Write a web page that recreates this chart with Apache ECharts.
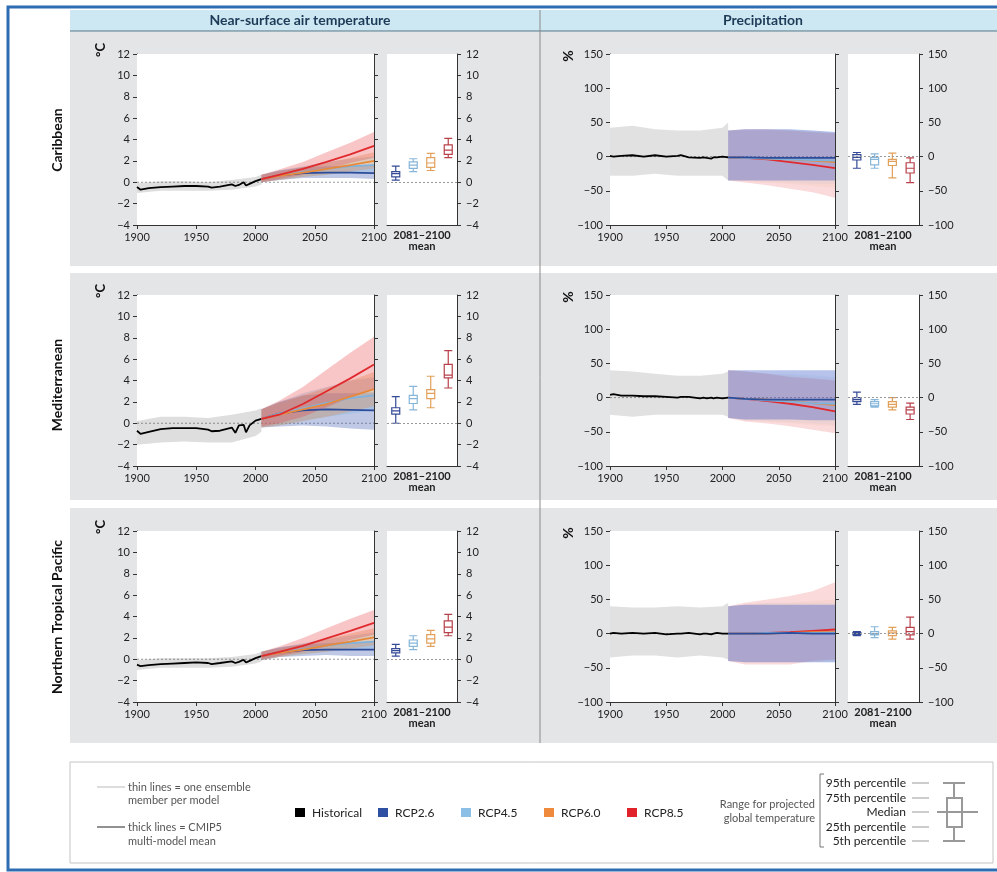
<!DOCTYPE html>
<html>
<head>
<meta charset="utf-8">
<script src="https://cdn.jsdelivr.net/npm/echarts@6/dist/echarts.min.js"></script>
<style>
  html, body { margin: 0; padding: 0; background: #fff; }
  #chart { width: 997px; height: 872px; }
</style>
</head>
<body>
<div id="chart"></div>
<script>
// years used by the curves
const histYears = [1900, 1903, 1910, 1920, 1930, 1940, 1950, 1960, 1963, 1970, 1980, 1983, 1986, 1990, 1992, 1995, 2000, 2005];
const histBandYears = [1900, 1920, 1940, 1960, 1980, 2000, 2005];
const futYears = [2005, 2020, 2040, 2060, 2080, 2100];

const scenarios = ['Historical', 'RCP2.6', 'RCP4.5', 'RCP6.0', 'RCP8.5'];
const regions = ['Caribbean', 'Mediterranean', 'Northern Tropical Pacific'];

// multi-model means: [historical, rcp26, rcp45, rcp60, rcp85]
const carTempMean = [
  [-0.45, -0.7, -0.55, -0.45, -0.4, -0.35, -0.35, -0.4, -0.5, -0.4, -0.2, -0.35, -0.25, 0.0, -0.3, -0.15, 0.1, 0.3],
  [0.3, 0.65, 0.85, 0.9, 0.9, 0.85],
  [0.3, 0.65, 0.95, 1.25, 1.5, 1.6],
  [0.3, 0.6, 0.9, 1.25, 1.6, 2.0],
  [0.3, 0.7, 1.25, 1.9, 2.6, 3.4]
];
const medTempMean = [
  [-0.7, -1.0, -0.8, -0.55, -0.45, -0.45, -0.45, -0.6, -0.75, -0.7, -0.4, -0.9, -0.2, -0.15, -0.85, -0.2, 0.25, 0.4],
  [0.4, 0.9, 1.2, 1.3, 1.25, 1.2],
  [0.4, 0.9, 1.4, 1.9, 2.35, 2.6],
  [0.4, 0.8, 1.3, 1.8, 2.5, 3.2],
  [0.4, 0.8, 1.8, 3.0, 4.2, 5.5]
];
const ntpTempMean = [
  [-0.5, -0.65, -0.55, -0.45, -0.4, -0.35, -0.3, -0.35, -0.45, -0.35, -0.2, -0.35, -0.25, -0.05, -0.3, -0.15, 0.1, 0.3],
  [0.3, 0.65, 0.85, 0.9, 0.9, 0.9],
  [0.3, 0.65, 0.95, 1.3, 1.5, 1.65],
  [0.3, 0.6, 0.9, 1.3, 1.65, 2.05],
  [0.3, 0.7, 1.25, 1.95, 2.65, 3.4]
];
const carPrecMean = [
  [1, 0, 1, 2, 0, 2, 0, 1, 2, -1, -2, -1, -2, -3, -1, -1, 0, -1],
  [-1, -1, -2, -2, -2, -2],
  [-1, -2, -3, -4, -5, -6],
  [-1, -2, -3, -4, -6, -8],
  [-1, -2, -4, -8, -12, -17]
];
const medPrecMean = [
  [4, 5, 3, 3, 2, 2, 1, 0, 1, 1, -1, 0, -1, 0, -1, 0, -1, 0],
  [0, -2, -3, -3, -3, -3],
  [0, -2, -4, -6, -8, -9],
  [0, -2, -3, -5, -8, -11],
  [0, -2, -5, -9, -14, -20]
];
const ntpPrecMean = [
  [0, 1, 0, 1, 0, 1, -1, 0, 0, 1, -1, 0, 0, -1, 0, 1, 0, 0],
  [0, 0, 0, 1, 0, 0],
  [0, 0, 1, 1, 1, 1],
  [0, 0, 0, 1, 2, 2],
  [0, 0, 1, 2, 4, 6]
];

// ensemble spread (lower / upper edge of the thin lines)
const carTempLo = [[-1.0, -0.8, -0.8, -0.8, -0.7, -0.4, -0.2], [0.0, 0.2, 0.4, 0.4, 0.4, 0.3], [0.0, 0.2, 0.5, 0.7, 0.9, 1.0], [0.0, 0.2, 0.5, 0.7, 1.0, 1.3], [0.0, 0.3, 0.7, 1.2, 1.8, 2.3]];
const carTempHi = [[-0.1, 0.1, 0.1, 0.0, 0.2, 0.5, 0.7], [0.7, 1.1, 1.4, 1.5, 1.5, 1.6], [0.7, 1.1, 1.5, 1.9, 2.2, 2.4], [0.7, 1.0, 1.4, 1.8, 2.3, 2.8], [0.7, 1.2, 1.9, 2.8, 3.7, 4.7]];
const medTempLo = [[-2.0, -1.8, -1.7, -1.8, -1.8, -1.2, -0.8], [-0.4, -0.3, -0.2, -0.3, -0.5, -0.6], [-0.4, -0.2, 0.2, 0.6, 0.9, 1.2], [-0.4, -0.2, 0.2, 0.6, 1.1, 1.6], [-0.3, 0.0, 0.6, 1.5, 2.4, 3.2]];
const medTempHi = [[0.2, 0.6, 0.6, 0.5, 0.8, 1.2, 1.4], [1.3, 2.0, 2.6, 2.8, 2.8, 2.9], [1.3, 2.0, 2.8, 3.4, 4.0, 4.3], [1.3, 1.9, 2.6, 3.3, 4.0, 4.8], [1.3, 2.1, 3.4, 5.0, 6.6, 8.1]];
const ntpTempLo = [[-1.0, -0.8, -0.8, -0.8, -0.7, -0.4, -0.2], [-0.1, 0.2, 0.3, 0.4, 0.3, 0.3], [-0.1, 0.2, 0.5, 0.7, 0.9, 1.0], [-0.1, 0.2, 0.5, 0.7, 1.0, 1.3], [0.0, 0.3, 0.7, 1.2, 1.8, 2.3]];
const ntpTempHi = [[-0.1, 0.1, 0.1, 0.1, 0.2, 0.5, 0.7], [0.7, 1.1, 1.4, 1.5, 1.6, 1.6], [0.7, 1.1, 1.5, 1.9, 2.2, 2.5], [0.7, 1.0, 1.4, 1.9, 2.4, 2.9], [0.7, 1.2, 2.0, 2.9, 3.8, 4.6]];
const carPrecLo = [[-28, -28, -25, -28, -28, -28, -35], [-35, -35, -35, -35, -35, -35], [-35, -35, -37, -38, -40, -40], [-35, -36, -38, -40, -43, -45], [-35, -38, -42, -47, -52, -60]];
const carPrecHi = [[42, 45, 40, 38, 38, 42, 50], [38, 40, 40, 40, 38, 36], [38, 40, 40, 40, 38, 36], [38, 38, 38, 38, 36, 34], [38, 40, 40, 38, 36, 34]];
const medPrecLo = [[-25, -28, -25, -25, -25, -25, -28], [-30, -32, -32, -32, -33, -33], [-30, -33, -35, -36, -38, -40], [-30, -33, -35, -37, -40, -42], [-30, -35, -38, -42, -47, -52]];
const medPrecHi = [[40, 38, 35, 32, 32, 35, 38], [40, 40, 40, 40, 40, 40], [40, 38, 35, 35, 33, 30], [40, 38, 35, 33, 30, 28], [40, 38, 35, 30, 28, 25]];
const ntpPrecLo = [[-35, -32, -32, -35, -32, -35, -38], [-40, -42, -42, -42, -42, -42], [-40, -42, -42, -42, -42, -42], [-40, -42, -42, -42, -42, -40], [-40, -45, -45, -45, -40, -38]];
const ntpPrecHi = [[40, 38, 38, 40, 38, 40, 45], [40, 42, 42, 42, 42, 42], [40, 42, 45, 45, 45, 45], [40, 42, 45, 45, 48, 50], [40, 45, 50, 55, 62, 75]];

// 2081-2100 mean: [5th, 25th, median, 75th, 95th] for rcp26, rcp45, rcp60, rcp85
const carTempBox = [[0.2, 0.5, 0.8, 1.0, 1.5], [1.0, 1.3, 1.6, 1.9, 2.2], [1.1, 1.4, 1.8, 2.3, 2.7], [2.3, 2.6, 3.0, 3.5, 4.1]];
const medTempBox = [[0.0, 0.85, 1.15, 1.45, 2.5], [1.25, 1.85, 2.3, 2.6, 3.45], [1.45, 2.3, 2.8, 3.15, 4.4], [3.3, 4.25, 4.5, 5.5, 6.8]];
const ntpTempBox = [[0.3, 0.6, 0.8, 1.0, 1.4], [0.9, 1.2, 1.5, 1.8, 2.2], [1.2, 1.5, 1.9, 2.3, 2.7], [2.2, 2.5, 3.0, 3.6, 4.2]];
const carPrecBox = [[-17, -5, -1, 3, 6], [-17, -12, -4, -1, 4], [-31, -13, -7, -4, 5], [-38, -24, -17, -9, -2]];
const medPrecBox = [[-10, -6, -3, 0, 8], [-14, -12, -9, -6, -3], [-18, -14, -10, -6, 0], [-32, -24, -18, -14, -8]];
const ntpPrecBox = [[-3, -1.5, 0, 1.5, 3], [-6, -2, 0, 3, 10], [-8, -3, 1, 4, 9], [-8, -2, 3, 9, 24]];

const lineColors = ['#000000', '#2b4c9b', '#7fb2dc', '#e8893a', '#e02a2e'];
const tempBandColors = ['rgba(70,70,70,0.18)', 'rgba(43,76,170,0.30)', 'rgba(120,175,220,0.30)', 'rgba(235,140,60,0.30)', 'rgba(230,50,55,0.28)'];
const precBandColors = ['rgba(70,70,70,0.16)', 'rgba(55,90,200,0.36)', 'rgba(120,175,220,0.08)', 'rgba(235,140,60,0.06)', 'rgba(230,50,55,0.18)'];
const boxColors = ['#344a96', '#86b6da', '#e2a05a', '#b8404a'];
const legendColors = ['#000000', '#2f4fa2', '#8cbfe6', '#ef8a3c', '#e0232a'];

const FONT = 'Lato';
const rowTops = [54, 295, 531];
const rowBg = [[32, 266], [273, 500], [508, 743]];

const panels = [
  [{ mean: carTempMean, lo: carTempLo, hi: carTempHi, box: carTempBox }, { mean: carPrecMean, lo: carPrecLo, hi: carPrecHi, box: carPrecBox }],
  [{ mean: medTempMean, lo: medTempLo, hi: medTempHi, box: medTempBox }, { mean: medPrecMean, lo: medPrecLo, hi: medPrecHi, box: medPrecBox }],
  [{ mean: ntpTempMean, lo: ntpTempLo, hi: ntpTempHi, box: ntpTempBox }, { mean: ntpPrecMean, lo: ntpPrecLo, hi: ntpPrecHi, box: ntpPrecBox }]
];

const minus = v => String(v).replace('-', '\u2212');

const option = {
  animation: false,
  backgroundColor: '#fff',
  textStyle: { fontFamily: FONT },
  grid: [], xAxis: [], yAxis: [], series: [], graphic: []
};

function bandSeries(xi, yi, years, lo, hi, color) {
  return {
    type: 'custom', xAxisIndex: xi, yAxisIndex: yi, silent: true, z: 2,
    data: [[2000, 0]],
    renderItem: function (params, api) {
      const pts = [];
      for (let i = 0; i < years.length; i++) pts.push(api.coord([years[i], hi[i]]));
      for (let i = years.length - 1; i >= 0; i--) pts.push(api.coord([years[i], lo[i]]));
      return { type: 'polygon', shape: { points: pts }, style: { fill: color } };
    }
  };
}

function lineSeries(xi, yi, years, vals, color, width, z, dash) {
  return {
    type: 'line', xAxisIndex: xi, yAxisIndex: yi, silent: true, z: z,
    showSymbol: false, symbol: 'none',
    data: years.map((y, i) => [y, vals[i]]),
    lineStyle: { color: color, width: width, type: dash || 'solid' }
  };
}

const axisLineStyle = { color: '#333', width: 1 };
const labelStyle = { fontFamily: FONT, fontSize: 11, color: '#222' };

for (let r = 0; r < 3; r++) {
  for (let c = 0; c < 2; c++) {
    const p = panels[r][c];
    const top = rowTops[r];
    const main = c === 0 ? { left: 137, width: 237 } : { left: 610, width: 225 };
    const bx = c === 0 ? { left: 387, width: 70 } : { left: 848, width: 71 };
    const rng = c === 0 ? { min: -4, max: 12, interval: 2 } : { min: -100, max: 150, interval: 50 };
    const bandColors = c === 0 ? tempBandColors : precBandColors;
    const gi = option.grid.length;

    option.grid.push({ left: main.left, top: top, width: main.width, height: 171, show: true, backgroundColor: '#fff', borderWidth: 0, z: 1 });
    option.grid.push({ left: bx.left, top: top, width: bx.width, height: 171, show: true, backgroundColor: '#fff', borderWidth: 0, z: 1 });

    option.xAxis.push({
      type: 'value', gridIndex: gi, min: 1900, max: 2100, interval: 50,
      axisLine: { show: true, onZero: false, lineStyle: axisLineStyle },
      axisTick: { show: true, length: 4, lineStyle: axisLineStyle },
      axisLabel: Object.assign({ margin: 7, formatter: v => String(v) }, labelStyle),
      splitLine: { show: false }
    });
    option.xAxis.push({
      type: 'category', gridIndex: gi + 1, data: scenarios.slice(1),
      axisLine: { show: true, onZero: false, lineStyle: axisLineStyle },
      axisTick: { show: false }, axisLabel: { show: false }, splitLine: { show: false }
    });

    const yi = option.yAxis.length;
    option.yAxis.push({
      type: 'value', gridIndex: gi, position: 'left', min: rng.min, max: rng.max, interval: rng.interval,
      axisLine: { show: true, lineStyle: axisLineStyle },
      axisTick: { show: true, length: 4, lineStyle: axisLineStyle },
      axisLabel: Object.assign({ margin: 7, formatter: minus }, labelStyle),
      splitLine: { show: false }
    });
    option.yAxis.push({
      type: 'value', gridIndex: gi, position: 'right', min: rng.min, max: rng.max, interval: rng.interval,
      axisLine: { show: true, lineStyle: axisLineStyle },
      axisTick: { show: true, length: 4, lineStyle: axisLineStyle },
      axisLabel: { show: false }, splitLine: { show: false }
    });
    option.yAxis.push({
      type: 'value', gridIndex: gi + 1, position: 'right', min: rng.min, max: rng.max, interval: rng.interval,
      axisLine: { show: true, lineStyle: axisLineStyle },
      axisTick: { show: true, length: 4, lineStyle: axisLineStyle },
      axisLabel: Object.assign({ margin: 9, formatter: minus }, labelStyle),
      splitLine: { show: false }
    });

    // zero reference line
    option.series.push(lineSeries(gi, yi, [1900, 2100], [0, 0], '#999', 1, 1, [2, 2]));

    // ensemble spread
    option.series.push(bandSeries(gi, yi, histBandYears, p.lo[0], p.hi[0], bandColors[0]));
    const order = c === 0 ? [1, 2, 3, 4] : [4, 3, 2, 1];
    order.forEach(k => option.series.push(bandSeries(gi, yi, futYears, p.lo[k], p.hi[k], bandColors[k])));

    // multi-model means
    option.series.push(lineSeries(gi, yi, histYears, p.mean[0], lineColors[0], 1.8, 3));
    const lineOrder = c === 0 ? [1, 2, 3, 4] : [4, 3, 2, 1];
    lineOrder.forEach(k => option.series.push(lineSeries(gi, yi, futYears, p.mean[k], lineColors[k], 1.8, 3)));

    // box plots
    option.series.push({
      type: 'boxplot', xAxisIndex: gi + 1, yAxisIndex: yi + 2, silent: true, z: 3,
      boxWidth: [8, 8],
      data: p.box.map((b, i) => ({ value: b, itemStyle: { color: 'rgba(255,255,255,0)', borderColor: boxColors[i], borderWidth: 1.2 } })),
      markLine: {
        silent: true, symbol: 'none', label: { show: false },
        lineStyle: { color: '#999', type: [2, 2], width: 1 },
        data: [{ yAxis: 0 }]
      }
    });
  }
}

// ---- decorations ----
const G = option.graphic;
const txt = (x, y, text, opt) => Object.assign({
  type: 'text', x: x, y: y, z: 20,
  style: Object.assign({ text: text, fontFamily: FONT, fontSize: 11, fill: '#333', textAlign: 'left', textVerticalAlign: 'middle' }, opt || {})
});

G.push({ type: 'rect', z: -10, shape: { x: 70, y: 10, width: 927, height: 21 }, style: { fill: '#cde8f3' } });
G.push({ type: 'line', z: -9, shape: { x1: 70, y1: 31, x2: 997, y2: 31 }, style: { stroke: '#7d98a6', lineWidth: 1.5 } });
rowBg.forEach(b => G.push({ type: 'rect', z: -10, shape: { x: 70, y: b[0], width: 927, height: b[1] - b[0] }, style: { fill: '#e4e5e6' } }));
G.push({ type: 'line', z: -9, shape: { x1: 540, y1: 10, x2: 540, y2: 743 }, style: { stroke: '#8a8a8a', lineWidth: 1 } });
G.push({ type: 'rect', z: 50, shape: { x: 8, y: 7, width: 1000, height: 863 }, style: { fill: 'none', stroke: '#2f6db3', lineWidth: 3 } });

G.push(txt(300, 20, 'Near-surface air temperature', { fontSize: 14, fontWeight: 'bold', fill: '#1d3a57', textAlign: 'center' }));
G.push(txt(763, 20, 'Precipitation', { fontSize: 14, fontWeight: 'bold', fill: '#1d3a57', textAlign: 'center' }));

const rowLabelY = [140, 385, 617];
regions.forEach((name, r) => {
  const t = txt(57, rowLabelY[r], name, { fontSize: 14, fontWeight: 'bold', fill: '#111', textAlign: 'center' });
  t.rotation = Math.PI / 2;
  G.push(t);
  const u1 = txt(101, rowTops[r] - 4, '°C', { fontSize: 13, fontWeight: 'bold', fill: '#111', textAlign: 'center' });
  u1.rotation = Math.PI / 2;
  G.push(u1);
  const u2 = txt(568, rowTops[r] + 2, '%', { fontSize: 14, fontWeight: 'bold', fill: '#111', textAlign: 'center' });
  u2.rotation = Math.PI / 2;
  G.push(u2);
  [422, 883].forEach(x => {
    G.push(txt(x, rowTops[r] + 181, '2081\u20132100', { fontSize: 11, fontWeight: 'bold', fill: '#222', textAlign: 'center' }));
    G.push(txt(x, rowTops[r] + 192, 'mean', { fontSize: 11, fontWeight: 'bold', fill: '#222', textAlign: 'center' }));
  });
});

// legend box
G.push({ type: 'rect', z: -10, shape: { x: 70, y: 762, width: 923, height: 101 }, style: { fill: '#fff', stroke: '#c4c4c4', lineWidth: 1 } });
G.push({ type: 'line', z: 20, shape: { x1: 97, y1: 787, x2: 125, y2: 787 }, style: { stroke: '#bbb', lineWidth: 1 } });
G.push({ type: 'line', z: 20, shape: { x1: 97, y1: 827, x2: 125, y2: 827 }, style: { stroke: '#555', lineWidth: 1.3 } });
G.push(txt(128, 787, 'thin lines = one ensemble', { fill: '#555' }));
G.push(txt(128, 800, 'member per model', { fill: '#555' }));
G.push(txt(128, 827, 'thick lines = CMIP5', { fill: '#555' }));
G.push(txt(128, 841, 'multi-model mean', { fill: '#555' }));

const legX = [300, 383, 466, 549, 632];
scenarios.forEach((s, i) => {
  G.push({ type: 'rect', z: 20, shape: { x: legX[i] - 5, y: 808, width: 10, height: 9 }, style: { fill: legendColors[i] } });
  G.push(txt(legX[i] + 12, 813, s, { fontSize: 12, fill: '#222' }));
});

G.push(txt(815, 804, 'Range for projected', { fill: '#555', textAlign: 'right' }));
G.push(txt(815, 818, 'global temperature', { fill: '#555', textAlign: 'right' }));
G.push({ type: 'polyline', z: 20, shape: { points: [[824, 774], [820, 774], [820, 847], [824, 847]] }, style: { stroke: '#777', lineWidth: 1, fill: null } });

const pctLabels = ['95th percentile', '75th percentile', 'Median', '25th percentile', '5th percentile'];
const pctY = [783, 798, 812, 827, 841];
pctLabels.forEach((s, i) => {
  G.push(txt(906, pctY[i], s, { fontSize: 12, fill: '#222', textAlign: 'right' }));
  G.push({ type: 'line', z: 20, shape: { x1: 912, y1: pctY[i], x2: 929, y2: pctY[i] }, style: { stroke: '#999', lineWidth: 1 } });
});
const bs = { stroke: '#999', lineWidth: 2, fill: null };
G.push({ type: 'line', z: 20, shape: { x1: 943, y1: 783, x2: 965, y2: 783 }, style: bs });
G.push({ type: 'line', z: 20, shape: { x1: 943, y1: 841, x2: 965, y2: 841 }, style: bs });
G.push({ type: 'line', z: 20, shape: { x1: 954, y1: 783, x2: 954, y2: 798 }, style: bs });
G.push({ type: 'line', z: 20, shape: { x1: 954, y1: 827, x2: 954, y2: 841 }, style: bs });
G.push({ type: 'rect', z: 20, shape: { x: 947, y: 798, width: 15, height: 29 }, style: bs });
G.push({ type: 'line', z: 20, shape: { x1: 937, y1: 812, x2: 978, y2: 812 }, style: bs });

const chart = echarts.init(document.getElementById('chart'));
chart.setOption(option);
</script>
</body>
</html>
